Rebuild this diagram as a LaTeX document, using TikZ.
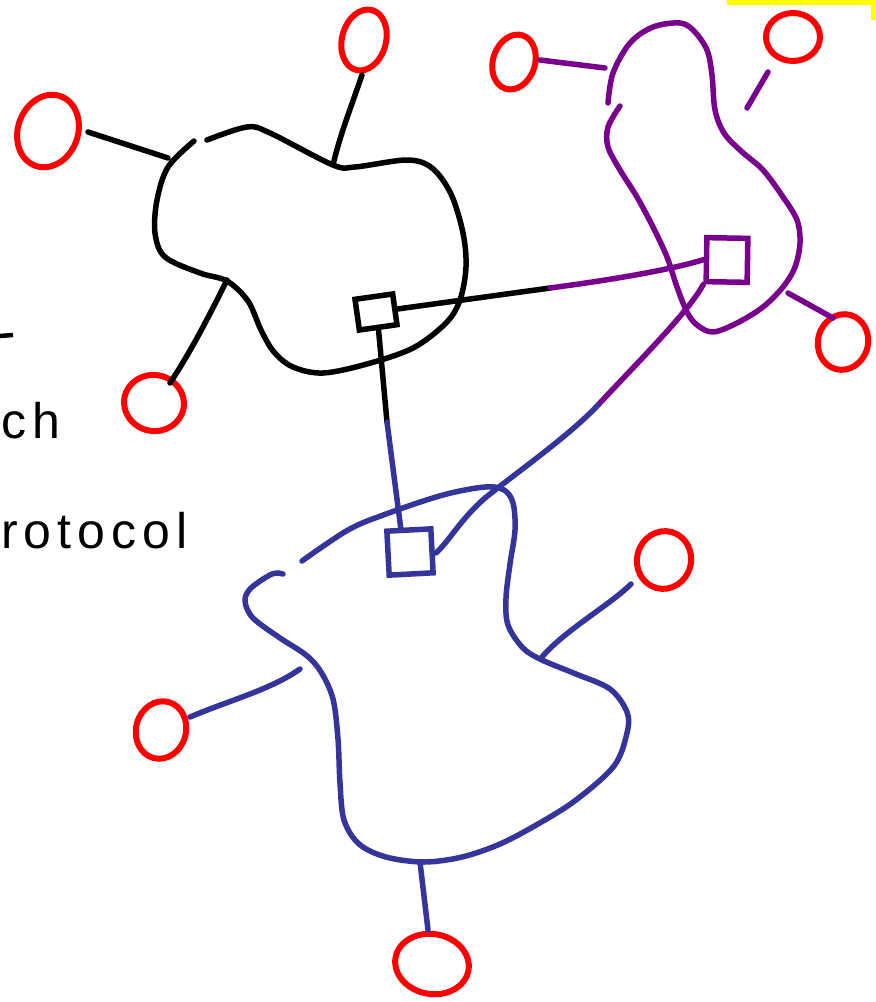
\documentclass[tikz,border=0pt]{standalone}
\usepackage{fontspec}
\usetikzlibrary{shapes.geometric}
\newfontfamily\handfont[LetterSpace=12]{Liberation Sans}
\definecolor{netblack}{RGB}{0,0,0}
\definecolor{netpurple}{RGB}{120,0,140}
\definecolor{netblue}{RGB}{52,52,155}
\definecolor{hostred}{RGB}{255,0,0}
\definecolor{hiliteyellow}{RGB}{255,255,0}
\tikzset{
  stroke/.style={line width=5.5pt, line cap=round, line join=round},
  blk/.style={stroke, draw=netblack},
  pur/.style={stroke, draw=netpurple},
  blu/.style={stroke, draw=netblue},
  host/.style={ellipse, draw=hostred, line width=6pt, inner sep=0pt},
  swbox/.style={rectangle, line width=5.5pt, inner sep=0pt},
  hand/.style={font=\handfont\fontsize{50}{60}\selectfont, inner sep=0pt, text=black}
}
\begin{document}
\begin{tikzpicture}[x=1pt,y=-1pt]
\useasboundingbox (0,0) rectangle (876,1002);
\clip (0,0) rectangle (876,1002);

% text (only the part the picture shows)
\node[hand, anchor=base west] (sw) at (1,438) {ch};
\node[hand, anchor=base west] (pr) at (1,548) {rotocol};
\draw[blk, line width=4.5pt, line cap=butt] (0,336) -- (13,335);

% highlight marker
\draw[draw=hiliteyellow, line width=5pt] (727,2.5) -- (873.5,2.5) -- (873.5,20);

% hosts
\node[host, minimum width=60pt, minimum height=74pt, rotate=-20] (h1) at (48,131) {};
\node[host, minimum width=44pt, minimum height=62pt, rotate=-15] (h2) at (364,40) {};
\node[host, minimum width=60pt, minimum height=56pt, rotate=-10] (h3) at (154,403) {};
\node[host, minimum width=42pt, minimum height=56pt, rotate=-18] (h4) at (514,62) {};
\node[host, minimum width=54pt, minimum height=48pt] (h5) at (793,37) {};
\node[host, minimum width=50pt, minimum height=56pt, rotate=-15] (h6) at (843,342) {};
\node[host, minimum width=54pt, minimum height=58pt, rotate=-15] (h7) at (664,560) {};
\node[host, minimum width=50pt, minimum height=58pt, rotate=-15] (h8) at (161,730) {};
\node[host, minimum width=74pt, minimum height=60pt, rotate=-10] (h9) at (432,964) {};

% black network
\draw[blk] plot[smooth, tension=0.55] coordinates {(207,140) (247,127) (270,133) (333,165) (355,167) (407,160) (432,168) (451,194) (463,233) (466,267) (460,300) (446,323) (413,348) (367,364) (323,373) (293,367) (274,352) (261,330) (248,301) (227,281) (200,273) (165,257) (155,233) (157,200) (168,167) (194,141)};
\coordinate (a1) at (88,132);  \coordinate (a2) at (168,158);
\coordinate (b1) at (362,75);  \coordinate (b2) at (333,165);
\coordinate (c1) at (170,383); \coordinate (c2) at (227,280);
\draw[blk] (a1) -- (a2);
\draw[blk] (b1) .. controls (350,110) and (340,135) .. (b2);
\draw[blk] (c1) .. controls (192,350) and (212,310) .. (c2);

% purple network
\draw[pur] plot[smooth, tension=0.55] coordinates {(608,103) (613,73) (630,43) (653,27) (680,23) (694,31) (707,50) (712,75) (715,110) (724,133) (741,151) (763,170) (783,197) (797,220) (800,243) (795,267) (783,287) (763,307) (737,323) (713,332) (697,325) (687,312) (677,287) (667,257) (653,227) (637,197) (620,170) (608,147) (608,127) (620,106)};
\coordinate (d1) at (540,60);  \coordinate (d2) at (605,68);
\coordinate (e1) at (768,72);  \coordinate (e2) at (747,108);
\coordinate (f1) at (788,293); \coordinate (f2) at (833,318);
\draw[pur] (d1) -- (d2);
\draw[pur] (e1) -- (e2);
\draw[pur] (f1) -- (f2);

% blue network
\draw[blu] plot[smooth, tension=0.55] coordinates {(302,561) (348,530) (386,514) (443,495) (485,487) (504,490) (513,503) (515,530) (510,564) (506,598) (508,625) (523,648) (542,660) (576,674) (610,689) (627,712) (627,733) (614,766) (576,800) (538,824) (500,844) (462,857) (424,862) (386,857) (359,844) (344,820) (340,783) (338,739) (333,699) (321,672) (306,655) (280,638) (253,618) (245,601) (251,588) (272,574) (283,574)};
\coordinate (g1) at (190,717); \coordinate (g2) at (300,669);
\coordinate (k1) at (631,584); \coordinate (k2) at (542,657);
\coordinate (m1) at (420,862); \coordinate (m2) at (428,930);
\draw[blu] (g1) .. controls (230,700) and (270,690) .. (g2);
\draw[blu] (k1) .. controls (610,605) and (565,630) .. (k2);
\draw[blu] (m1) -- (m2);

% switches
\node[swbox, draw=netblack, minimum width=38pt, minimum height=31pt, rotate=8] (s1) at (376,312) {};
\node[swbox, draw=netpurple, minimum width=41pt, minimum height=44pt, rotate=-1] (s2) at (727,260) {};
\node[swbox, draw=netblue, minimum width=44pt, minimum height=44pt, rotate=3] (s3) at (410,552) {};

% inter-switch links
\coordinate (j1) at (550,288);
\coordinate (j2) at (387,422);
\coordinate (j3) at (598,405);
\draw[blk] (s1.east) -- (j1);
\draw[pur] (j1) .. controls (610,280) and (670,270) .. (s2.west);
\draw[blk] (s1.south) -- (j2);
\draw[blu] (j2) -- (401,530);
\draw[pur] (s2.south west) .. controls (690,310) and (640,360) .. (j3);
\draw[blu] (j3) .. controls (570,435) and (520,470) .. (485,498) .. controls (460,520) and (450,540) .. (436,553);
\end{tikzpicture}
\end{document}
